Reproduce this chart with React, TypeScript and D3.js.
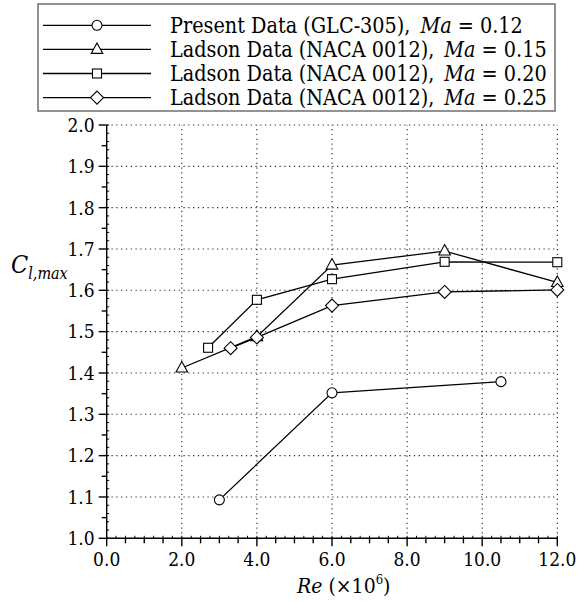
import * as d3 from 'd3'

// Re (x10^6) and Cl,max
const rePresent = [3.0, 6.0, 10.5]
const clPresent = [1.093, 1.352, 1.379]

const reLadson15 = [2.0, 4.0, 6.0, 9.0, 12.0]
const clLadson15 = [1.412, 1.488, 1.661, 1.695, 1.619]

const reLadson20 = [2.7, 4.0, 6.0, 9.0, 12.0]
const clLadson20 = [1.461, 1.577, 1.627, 1.669, 1.668]

const reLadson25 = [3.3, 4.0, 6.0, 9.0, 12.0]
const clLadson25 = [1.46, 1.486, 1.563, 1.596, 1.601]

const legendNames = [
  'Present Data (GLC-305),',
  'Ladson Data (NACA 0012),',
  'Ladson Data (NACA 0012),',
  'Ladson Data (NACA 0012),',
]
const machValues = ['0.12', '0.15', '0.20', '0.25']
const markerKinds = ['circle', 'triangle', 'square', 'diamond']

const xTicks = [0, 2, 4, 6, 8, 10, 12]
const yTicks = [1.0, 1.1, 1.2, 1.3, 1.4, 1.5, 1.6, 1.7, 1.8, 1.9, 2.0]

const W = 577
const H = 602
const margin = { top: 125, right: 19.7, bottom: 63.7, left: 106.7 }
const FONT = "'DejaVu Serif Condensed', 'DejaVu Serif', serif"

function Marker({ kind, x, y }: { kind: string; x: number; y: number }) {
  const common = { fill: '#fff', stroke: '#000', strokeWidth: 1.1 }
  if (kind === 'circle') return <circle cx={x} cy={y} r={5} {...common} />
  if (kind === 'square') return <rect x={x - 4.5} y={y - 4.5} width={9} height={9} {...common} />
  if (kind === 'triangle')
    return <path d={`M${x},${y - 6.5}L${x + 5.8},${y + 4}L${x - 5.8},${y + 4}Z`} {...common} />
  return <path d={`M${x},${y - 6.5}L${x + 6.5},${y}L${x},${y + 6.5}L${x - 6.5},${y}Z`} {...common} />
}

export default function App() {
  const x = d3.scaleLinear().domain([0, 12]).range([margin.left, W - margin.right])
  const y = d3.scaleLinear().domain([1.0, 2.0]).range([H - margin.bottom, margin.top])

  const series = [
    { re: rePresent, cl: clPresent },
    { re: reLadson15, cl: clLadson15 },
    { re: reLadson20, cl: clLadson20 },
    { re: reLadson25, cl: clLadson25 },
  ]

  const line = d3
    .line<[number, number]>()
    .x((d) => x(d[0]))
    .y((d) => y(d[1]))

  const x0 = x(0)
  const x1 = x(12)
  const y0 = y(1.0)
  const y1 = y(2.0)

  // minor ticks
  const xMinor = d3.range(0, 12.001, 0.5).filter((v) => Math.abs(v % 2) > 1e-6)
  const yMinor = d3.range(1.05, 2.0, 0.1)
  const yFine = d3.range(1.0, 2.0001, 0.02)
  const xFine = d3.range(0, 12.001, 0.25)

  const legendRowY = (i: number) => 25.3 + i * 24.1
  const txt = { fontFamily: FONT }

  return (
    <svg
      width={W}
      height={H}
      style={{ position: 'absolute', left: 0, top: 0, background: '#fff', fontFamily: FONT }}
    >
      {/* grid */}
      <g stroke="#222" strokeWidth={1.1} strokeDasharray="1.2 3.6">
        {xTicks.slice(1).map((t) => (
          <line key={'gx' + t} x1={x(t)} x2={x(t)} y1={y0} y2={y1} />
        ))}
        {yTicks.slice(1).map((t) => (
          <line key={'gy' + t} x1={x0} x2={x1} y1={y(t)} y2={y(t)} />
        ))}
      </g>

      {/* axes */}
      <g stroke="#000" strokeWidth={1.4}>
        <line x1={x0} x2={x0} y1={y0 + 0.7} y2={y1} />
        <line x1={x0} x2={x1 + 0.7} y1={y0} y2={y0} />
        {yTicks.map((t) => (
          <line key={'yt' + t} x1={x0 - 8} x2={x0} y1={y(t)} y2={y(t)} />
        ))}
        {yMinor.map((t) => (
          <line key={'ym' + t} x1={x0 - 5} x2={x0} y1={y(t)} y2={y(t)} />
        ))}
        {xTicks.map((t) => (
          <line key={'xt' + t} x1={x(t)} x2={x(t)} y1={y0} y2={y0 + 8} />
        ))}
        {xMinor.map((t) => (
          <line key={'xm' + t} x1={x(t)} x2={x(t)} y1={y0} y2={y0 + 5} />
        ))}
      </g>
      <g stroke="#000" strokeWidth={1}>
        {yFine.map((t) => (
          <line key={'yf' + t} x1={x0} x2={x0 + 2.5} y1={y(t)} y2={y(t)} />
        ))}
        {xFine.map((t) => (
          <line key={'xf' + t} x1={x(t)} x2={x(t)} y1={y0} y2={y0 - 2.5} />
        ))}
      </g>

      {/* tick labels */}
      <g fontSize={19} fill="#000" style={txt}>
        {yTicks.map((t) => (
          <text key={'yl' + t} x={x0 - 12} y={y(t)} dy="0.36em" textAnchor="end" style={txt}>
            {t.toFixed(1)}
          </text>
        ))}
        {xTicks.map((t) => (
          <text key={'xl' + t} x={x(t)} y={y0 + 27.5} textAnchor="middle" style={txt}>
            {t.toFixed(1)}
          </text>
        ))}
      </g>

      {/* axis titles */}
      <text x={297} y={593} fontSize={21} style={txt}>
        <tspan fontStyle="italic">Re</tspan>
        <tspan> (×10</tspan>
        <tspan fontSize={13} dy={-9}>6</tspan>
        <tspan dy={9}>)</tspan>
      </text>
      <text x={11} y={273} fontSize={25} fontStyle="italic" style={txt}>
        C<tspan fontSize={16} dy={6}>l,max</tspan>
      </text>

      {/* data */}
      {series.map((s, i) => (
        <g key={'s' + i}>
          <path
            d={line(s.re.map((r, j) => [r, s.cl[j]] as [number, number])) ?? ''}
            fill="none"
            stroke="#000"
            strokeWidth={1.3}
          />
          {s.re.map((r, j) => (
            <Marker key={j} kind={markerKinds[i]} x={x(r)} y={y(s.cl[j])} />
          ))}
        </g>
      ))}

      {/* legend */}
      <rect x={38} y={4} width={517} height={107} fill="#fff" stroke="#777" strokeWidth={1.6} />
      {legendNames.map((name, i) => (
        <g key={'lg' + i}>
          <line x1={43} x2={151} y1={legendRowY(i)} y2={legendRowY(i)} stroke="#000" strokeWidth={1.3} />
          <Marker kind={markerKinds[i]} x={97} y={legendRowY(i)} />
          <text x={170} y={legendRowY(i) + 7.5} fontSize={21.4} style={txt}>
            {name}
            <tspan dx={10} fontStyle="italic">Ma</tspan>
            <tspan>{' = ' + machValues[i]}</tspan>
          </text>
        </g>
      ))}
    </svg>
  )
}
